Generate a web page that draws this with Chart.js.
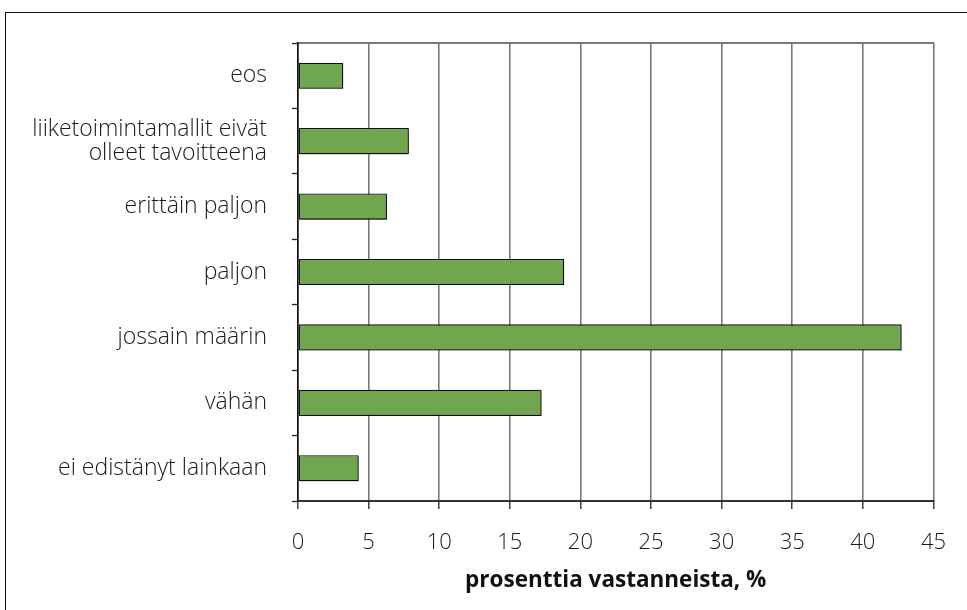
<!DOCTYPE html>
<html>
<head>
<meta charset="utf-8">
<script src="https://cdn.jsdelivr.net/npm/chart.js@4.4.0/dist/chart.umd.min.js"></script>
<style>
  html, body { margin: 0; padding: 0; background: #fff; }
  #frame {
    position: absolute; left: 5px; top: 12px; width: 980px; height: 620px;
    border-top: 1.5px solid #111; border-left: 1.5px solid #111;
  }
  #wrap { position: absolute; left: 0; top: 0; width: 967px; height: 610px; }
</style>
</head>
<body>
<div id="frame"></div>
<div id="wrap"><canvas id="chart" width="967" height="610"></canvas></div>
<script>
// kategoriat ylhäältä alas
const categories = [
    'eos',
    ['liiketoimintamallit eivät', 'olleet tavoitteena'],
    'erittäin paljon',
    'paljon',
    'jossain määrin',
    'vähän',
    'ei edistänyt lainkaan'
];
const values = [3.2, 7.85, 6.3, 18.85, 42.75, 17.25, 4.3];
const xTicks = [0, 5, 10, 15, 20, 25, 30, 35, 40, 45];
const xTitle = 'prosenttia vastanneista, %';

const fontFamily = '"Open Sans", "Noto Sans", sans-serif';

// pieni harmaa varjo palkkien alle
const barShadow = {
    id: 'barShadow',
    beforeDatasetDraw(chart) {
        const ctx = chart.ctx;
        ctx.save();
        ctx.shadowColor = 'rgba(0,0,0,0.35)';
        ctx.shadowOffsetX = 1.5;
        ctx.shadowOffsetY = 1.5;
        ctx.shadowBlur = 0;
    },
    afterDatasetDraw(chart) {
        chart.ctx.restore();
    }
};

const ctx = document.getElementById('chart').getContext('2d');
new Chart(ctx, {
    type: 'bar',
    data: {
        labels: categories,
        datasets: [{
            data: values,
            backgroundColor: '#70a64e',
            borderColor: '#111',
            borderWidth: 1.3,
            borderSkipped: false,
            barPercentage: 0.4,
            categoryPercentage: 1
        }]
    },
    options: {
        indexAxis: 'y',
        responsive: false,
        animation: false,
        layout: { padding: { left: 0, top: 43, right: 22, bottom: 16 } },
        plugins: {
            legend: { display: false },
            tooltip: { enabled: false }
        },
        scales: {
            x: {
                min: 0, max: 45,
                afterBuildTicks: (scale) => { scale.ticks = xTicks.map(v => ({ value: v })); },
                afterFit: (scale) => { scale.height = 93; },
                grid: {
                    color: '#7a7a7a', lineWidth: 1.6,
                    drawTicks: true, tickLength: 8, tickColor: '#222', tickWidth: 1.3
                },
                border: { display: true, color: '#333', width: 2 },
                ticks: {
                    color: '#1a1a1a', padding: 21,
                    font: { family: fontFamily, size: 22, weight: 300 }
                },
                title: {
                    display: true, text: xTitle, color: '#111',
                    padding: { top: 6, bottom: 0 },
                    font: { family: fontFamily, size: 22.5, weight: 'bold' }
                }
            },
            xTop: {
                position: 'top', axis: 'x', min: 0, max: 45,
                afterFit: (scale) => { scale.height = 0; },
                grid: { display: false },
                ticks: { display: false },
                border: { display: true, color: '#7a7a7a', width: 2 }
            },
            y: {
                afterFit: (scale) => { scale.width = 298; },
                grid: {
                    offset: true, drawOnChartArea: false,
                    drawTicks: true, tickLength: 6, tickColor: '#222', tickWidth: 1.3
                },
                border: { display: true, color: '#111', width: 1.6 },
                ticks: {
                    color: '#1a1a1a', padding: 25,
                    font: { family: fontFamily, size: 23, weight: 300, lineHeight: 1.05 }
                }
            }
        }
    },
    plugins: [barShadow]
});
</script>
</body>
</html>
